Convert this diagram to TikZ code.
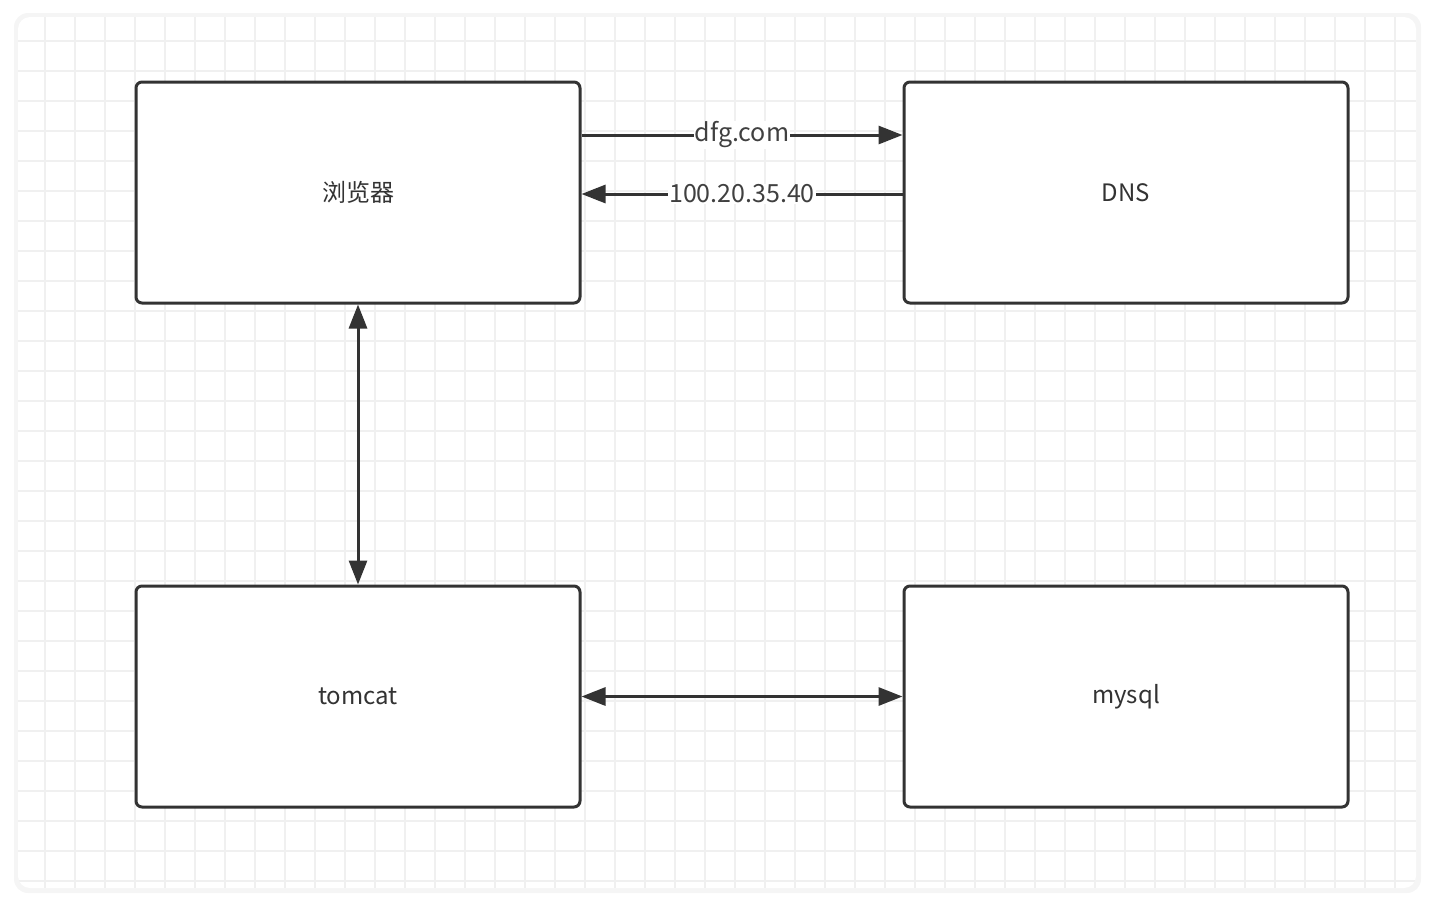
\documentclass[tikz,border=0pt]{standalone}
\usepackage{fontspec}
\setmainfont{Noto Sans CJK SC}
\usetikzlibrary{arrows.meta,shadows}
\begin{document}
\begin{tikzpicture}[x=1pt,y=-1pt,
  box/.style={draw=black!80,line width=3pt,rounded corners=6pt,fill=white,minimum width=444pt,minimum height=221pt,inner sep=0pt,font=\fontsize{24}{26}\selectfont,text=black!80},
  con/.style={draw=black!80,line width=3pt,-{Triangle[length=24pt,width=18pt]}},
  lbl/.style={fill=white,inner sep=1pt,font=\fontsize{25}{26}\selectfont,text=black!75}]
\useasboundingbox (0,0) rectangle (1434,906);
\fill[black!4,rounded corners=14pt] (14,13) rectangle (1421,893);
\fill[white,rounded corners=12pt] (18,17) rectangle (1416,888);
\begin{scope}
\clip[rounded corners=12pt] (18,17) rectangle (1416,888);
\foreach \x in {15,45,...,1415} \draw[black!6,line width=1.8pt] (\x,17)--(\x,888);
\foreach \y in {11,41,...,890} \draw[black!6,line width=1.8pt] (18,\y)--(1416,\y);
\end{scope}
\node[box] (b) at (358,192.5) {\raisebox{-3pt}{浏览器}};
\node[box] (d) at (1126,192.5) {\raisebox{-3pt}{DNS}};
\node[box] (t) at (358,696.5) {\raisebox{-3pt}{tomcat}};
\node[box] (m) at (1126,696.5) {\raisebox{-3pt}{mysql}};
\draw[con] (b.east|-0,135) -- node[lbl]{\raisebox{-4pt}{dfg.com}} (d.west|-0,135);
\draw[con] (d.west|-0,194) -- node[lbl]{\raisebox{-3pt}{100.20.35.40}} (b.east|-0,194);
\draw[con,{Triangle[length=24pt,width=18pt]}-{Triangle[length=24pt,width=18pt]}] (b.south) -- (t.north);
\draw[con,{Triangle[length=24pt,width=18pt]}-{Triangle[length=24pt,width=18pt]}] (t.east) -- (m.west);
\end{tikzpicture}
\end{document}
